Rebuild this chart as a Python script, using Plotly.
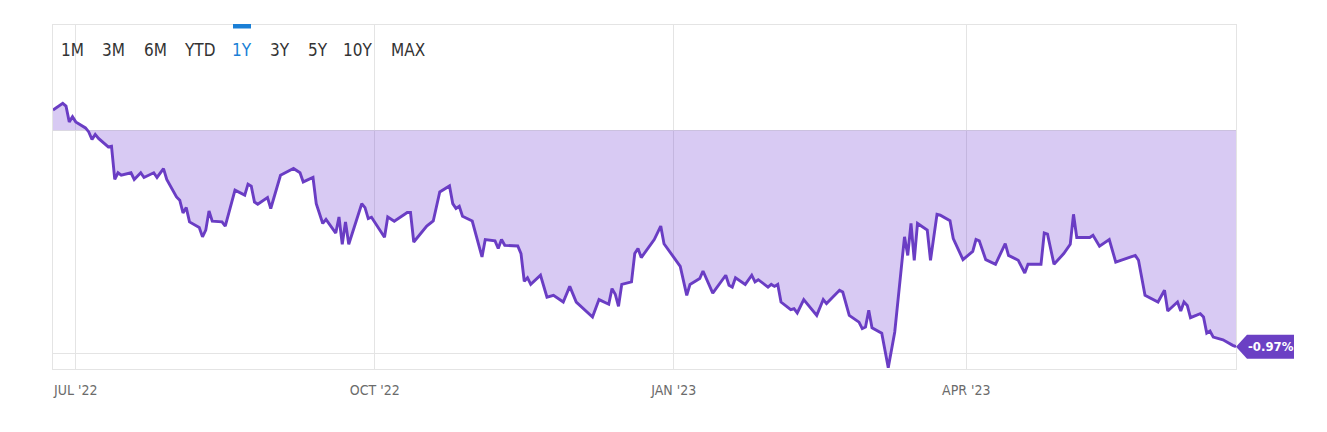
import plotly.graph_objects as go

dates = [
    "2022-06-24", "2022-06-27", "2022-06-28", "2022-06-29", "2022-06-30", "2022-07-01",
    "2022-07-04", "2022-07-05", "2022-07-06", "2022-07-07", "2022-07-08", "2022-07-11",
    "2022-07-12", "2022-07-13", "2022-07-14", "2022-07-15", "2022-07-18", "2022-07-19",
    "2022-07-21", "2022-07-22", "2022-07-25", "2022-07-26", "2022-07-28", "2022-07-29",
    "2022-08-01", "2022-08-02", "2022-08-03", "2022-08-04", "2022-08-05", "2022-08-08",
    "2022-08-09", "2022-08-10", "2022-08-11", "2022-08-12", "2022-08-15", "2022-08-16",
    "2022-08-19", "2022-08-22", "2022-08-23", "2022-08-24", "2022-08-25", "2022-08-26",
    "2022-08-29", "2022-08-30", "2022-09-02", "2022-09-06", "2022-09-08", "2022-09-09",
    "2022-09-12", "2022-09-13", "2022-09-15", "2022-09-16", "2022-09-19", "2022-09-20",
    "2022-09-21", "2022-09-22", "2022-09-23", "2022-09-27", "2022-09-28", "2022-09-29",
    "2022-09-30", "2022-10-04", "2022-10-05", "2022-10-07", "2022-10-11", "2022-10-12",
    "2022-10-13", "2022-10-17", "2022-10-19", "2022-10-21", "2022-10-24", "2022-10-25",
    "2022-10-26", "2022-10-27", "2022-10-28", "2022-10-31", "2022-11-03", "2022-11-04",
    "2022-11-07", "2022-11-08", "2022-11-09", "2022-11-10", "2022-11-14", "2022-11-15",
    "2022-11-16", "2022-11-17", "2022-11-18", "2022-11-21", "2022-11-23", "2022-11-25",
    "2022-11-28", "2022-11-30", "2022-12-02", "2022-12-07", "2022-12-09", "2022-12-12",
    "2022-12-13", "2022-12-14", "2022-12-15", "2022-12-16", "2022-12-19", "2022-12-20",
    "2022-12-21", "2022-12-22", "2022-12-26", "2022-12-28", "2022-12-29", "2023-01-03",
    "2023-01-05", "2023-01-06", "2023-01-09", "2023-01-10", "2023-01-13", "2023-01-17",
    "2023-01-18", "2023-01-19", "2023-01-20", "2023-01-23", "2023-01-25", "2023-01-26",
    "2023-01-27", "2023-01-30", "2023-01-31", "2023-02-01", "2023-02-02", "2023-02-03",
    "2023-02-06", "2023-02-07", "2023-02-08", "2023-02-10", "2023-02-14", "2023-02-16",
    "2023-02-17", "2023-02-21", "2023-02-22", "2023-02-24", "2023-02-27", "2023-02-28",
    "2023-03-01", "2023-03-02", "2023-03-03", "2023-03-06", "2023-03-08", "2023-03-10",
    "2023-03-13", "2023-03-14", "2023-03-15", "2023-03-16", "2023-03-17", "2023-03-20",
    "2023-03-21", "2023-03-23", "2023-03-24", "2023-03-27", "2023-03-28", "2023-03-31",
    "2023-04-03", "2023-04-04", "2023-04-05", "2023-04-07", "2023-04-10", "2023-04-13",
    "2023-04-14", "2023-04-17", "2023-04-19", "2023-04-20", "2023-04-24", "2023-04-25",
    "2023-04-26", "2023-04-28", "2023-05-01", "2023-05-03", "2023-05-04", "2023-05-05",
    "2023-05-09", "2023-05-10", "2023-05-12", "2023-05-15", "2023-05-17", "2023-05-23",
    "2023-05-24", "2023-05-26", "2023-05-30", "2023-06-01", "2023-06-02", "2023-06-05",
    "2023-06-06", "2023-06-07", "2023-06-08", "2023-06-09", "2023-06-12", "2023-06-13",
    "2023-06-14", "2023-06-15", "2023-06-16", "2023-06-19", "2023-06-22", "2023-06-23",
]

values = [
    0.090, 0.120, 0.108, 0.037, 0.060, 0.037,
    0.010, -0.008, -0.042, -0.019, -0.037, -0.075,
    -0.072, -0.221, -0.191, -0.202, -0.191, -0.221,
    -0.191, -0.212, -0.191, -0.212, -0.172, -0.221,
    -0.299, -0.314, -0.371, -0.347, -0.411, -0.436,
    -0.478, -0.448, -0.362, -0.408, -0.411, -0.430,
    -0.269, -0.291, -0.242, -0.251, -0.322, -0.332,
    -0.302, -0.351, -0.202, -0.172, -0.191, -0.232,
    -0.212, -0.329, -0.418, -0.400, -0.461, -0.389,
    -0.511, -0.411, -0.511, -0.330, -0.347, -0.396,
    -0.390, -0.480, -0.389, -0.408, -0.369, -0.369,
    -0.501, -0.430, -0.407, -0.277, -0.250, -0.329,
    -0.351, -0.341, -0.386, -0.407, -0.568, -0.490,
    -0.496, -0.530, -0.490, -0.516, -0.519, -0.553,
    -0.677, -0.661, -0.691, -0.650, -0.748, -0.740,
    -0.770, -0.700, -0.770, -0.837, -0.759, -0.780,
    -0.710, -0.735, -0.789, -0.691, -0.680, -0.553,
    -0.530, -0.571, -0.490, -0.430, -0.509, -0.610,
    -0.740, -0.691, -0.665, -0.631, -0.730, -0.650,
    -0.695, -0.703, -0.661, -0.691, -0.650, -0.680,
    -0.670, -0.703, -0.691, -0.700, -0.691, -0.770,
    -0.804, -0.800, -0.819, -0.759, -0.830, -0.759,
    -0.777, -0.717, -0.725, -0.830, -0.860, -0.889,
    -0.882, -0.807, -0.885, -0.910, -1.064, -0.904,
    -0.478, -0.561, -0.418, -0.583, -0.418, -0.448,
    -0.583, -0.377, -0.381, -0.406, -0.486, -0.580,
    -0.543, -0.490, -0.496, -0.580, -0.601, -0.508,
    -0.561, -0.583, -0.640, -0.601, -0.601, -0.461,
    -0.466, -0.601, -0.553, -0.511, -0.377, -0.481,
    -0.481, -0.471, -0.520, -0.490, -0.591, -0.561,
    -0.583, -0.740, -0.770, -0.717, -0.810, -0.770,
    -0.810, -0.770, -0.785, -0.840, -0.822, -0.837,
    -0.909, -0.900, -0.927, -0.939, -0.964, -0.970,
]

tick_dates = ["2022-07-01", "2022-10-01", "2023-01-01", "2023-04-01"]
tick_labels = ["JUL '22", "OCT '22", "JAN '23", "APR '23"]

range_buttons = ["1M", "3M", "6M", "YTD", "1Y", "3Y", "5Y", "10Y", "MAX"]
active_button = "1Y"

# page offset of the figure inside the browser (default body margin)
OFF = 8
# layout: pixel centres (page coordinates) of the range-selector labels
button_px = [72.5, 113.8, 155.5, 199.5, 242.3, 280.0, 317.7, 357.8, 407.7]

W, H = 1319, 424
ML, MR, MT, MB = 45, 91, 17, 63
PW = W - ML - MR
PH = H - MT - MB

LINE = "#6a3dc4"
FILL = "rgba(110,60,210,0.27)"
TAG = "#6b40c4"
GRID = "#e4e4e4"
FONT = "DejaVu Sans Condensed, Roboto, Arial, sans-serif"


def px_x(p):
    return (p - OFF - ML) / PW


def px_y(p):
    return (H - MB - (p - OFF)) / PH


fig = go.Figure()
fig.add_trace(go.Scatter(
    x=dates, y=values, mode="lines",
    line=dict(color=LINE, width=2.9),
    fill="tozeroy", fillcolor=FILL,
    hoverinfo="x+y", showlegend=False,
))

annotations = []
for lab, px in zip(range_buttons, button_px):
    active = lab == active_button
    annotations.append(dict(
        xref="paper", yref="paper",
        x=px_x(px), y=px_y(50),
        text=lab, showarrow=False, xanchor="center", yanchor="middle",
        font=dict(family=FONT, size=17, color="#1a7fd6" if active else "#333333"),
    ))

last_val = values[-1]
annotations.append(dict(
    xref="paper", yref="y", x=1, y=last_val,
    text=f"<b>{last_val:.2f}%</b>", showarrow=False,
    xanchor="left", yanchor="middle", xshift=10,
    font=dict(family=FONT, size=13, color="white"),
))

shapes = [
    dict(type="path", xref="paper", yref="y", xsizemode="pixel", ysizemode="pixel",
         xanchor=1, yanchor=last_val,
         path="M0,0 L11,12 L58,12 L58,-12 L11,-12 Z",
         fillcolor=TAG, line=dict(width=0), layer="above"),
    dict(type="rect", xref="paper", yref="paper",
         x0=px_x(233), x1=px_x(251),
         y0=px_y(28.5), y1=px_y(24),
         fillcolor="#1a7fd6", line=dict(width=0)),
]

fig.update_layout(
    width=W, height=H,
    margin=dict(l=ML, r=MR, t=MT, b=MB),
    paper_bgcolor="white", plot_bgcolor="white",
    annotations=annotations, shapes=shapes,
    hovermode="x",
    xaxis=dict(
        type="date", range=["2022-06-24", "2023-06-23"],
        tickvals=tick_dates, ticktext=tick_labels,
        showgrid=True, gridcolor=GRID, gridwidth=1,
        showline=True, linecolor=GRID, mirror=True,
        ticks="", ticklabelstandoff=8,
        tickfont=dict(family=FONT, size=14, color="#6b6b6b"),
        zeroline=False, fixedrange=True,
    ),
    yaxis=dict(
        range=[-1.070, 0.471],
        tickvals=[-1, 0], showticklabels=False,
        showgrid=True, gridcolor=GRID, gridwidth=1,
        showline=True, linecolor=GRID, mirror=True,
        zeroline=False, ticks="", fixedrange=True,
    ),
)

fig.write_html("out.html")
